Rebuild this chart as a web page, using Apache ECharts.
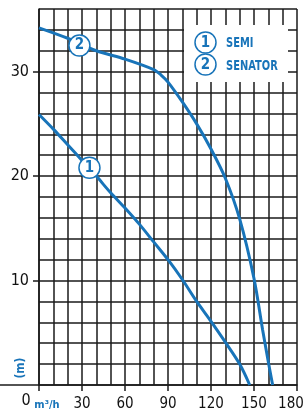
<!DOCTYPE html>
<html>
<head>
<meta charset="utf-8">
<script src="https://cdn.jsdelivr.net/npm/echarts@6/dist/echarts.min.js"></script>
<style>
    html, body { margin: 0; padding: 0; background: #fff; }
    #pumpchart { width: 303px; height: 412px; }
</style>
</head>
<body>
<div id="pumpchart"></div>
<script>
    // SEMI (1) curve
    var flowSemi = [0, 10, 20, 30, 40, 50, 60, 70, 80, 90, 100, 110, 120, 130, 140, 147];
    var headSemi = [25.9, 24.5, 23.0, 21.5, 20.0, 18.4, 16.95, 15.4, 13.7, 12.0, 10.1, 8.0, 6.1, 4.1, 2.0, 0];
    // SENATOR (2) curve
    var flowSenator = [0, 20, 40, 60, 80, 85, 90, 100, 110, 120, 130, 140, 150, 156, 160, 163];
    var headSenator = [34.2, 33.2, 32.0, 31.2, 30.2, 29.7, 29.0, 27.1, 25.0, 22.6, 19.8, 15.9, 10.2, 5.3, 2.2, 0];
    // where the circled numbers sit on the curves
    var markerNames = ['1', '2'];
    var markerFlow = [35.2, 28.2];
    var markerHead = [20.8, 32.5];
    // tick labels
    var xTickLabels = [30, 60, 90, 120, 150, 180];
    var yTickLabels = [10, 20, 30];
    var legendNames = ['SEMI', 'SENATOR'];

    var blue = '#1874b9';
    var ink = '#1a1a1a';
    var narrow = "'DejaVu Sans Condensed', 'Liberation Sans Narrow', sans-serif";

    function pairs(xs, ys) {
        var out = [];
        for (var i = 0; i < xs.length; i++) out.push([xs[i], ys[i]]);
        return out;
    }

    var chart = echarts.init(document.getElementById('pumpchart'));

    var option = {
        animation: false,
        grid: { left: 39, right: 6, top: 9, bottom: 27, outerBoundsMode: 'none' },
        xAxis: [
            {   // grid lines every 10
                type: 'value', position: 'bottom',
                min: 0, max: 180, interval: 10,
                axisLine: { show: true, lineStyle: { color: ink, width: 1.5 } },
                axisTick: { show: false },
                axisLabel: { show: false },
                splitLine: { show: true, lineStyle: { color: ink, width: 1.5 } }
            },
            {   // ticks and labels every 30
                type: 'value', position: 'bottom',
                min: 0, max: 180, interval: 30,
                axisLine: { show: false },
                axisTick: { show: true, customValues: [0].concat(xTickLabels), length: 6, lineStyle: { color: ink, width: 1.5 } },
                axisLabel: {
                    customValues: xTickLabels, margin: 12, fontSize: 15, color: '#111', fontFamily: narrow,
                    // last label is pulled in so it stays on the page
                    formatter: function (v) { return v === 180 ? '{r|' + v + '}' : String(v); },
                    rich: { r: { fontSize: 15, color: '#111', fontFamily: narrow, padding: [0, 12, 0, 0] } }
                },
                splitLine: { show: false }
            }
        ],
        yAxis: [
            {
                type: 'value', position: 'left',
                min: 0, max: 36, interval: 2,
                axisLine: { show: true, lineStyle: { color: ink, width: 1.5 } },
                axisTick: { show: false },
                axisLabel: { show: false },
                splitLine: { show: true, lineStyle: { color: ink, width: 1.5 } }
            },
            {
                type: 'value', position: 'left',
                min: 0, max: 36, interval: 2,
                axisLine: { show: false },
                axisTick: { show: true, customValues: yTickLabels, length: 6, lineStyle: { color: ink, width: 1.5 } },
                axisLabel: { customValues: yTickLabels, margin: 10, fontSize: 16, color: '#111', fontFamily: narrow },
                splitLine: { show: false }
            }
        ],
        graphic: [
            // axis line runs on to the left edge
            { type: 'line', shape: { x1: 0, y1: 385, x2: 39, y2: 385 }, style: { stroke: ink, lineWidth: 1.5 } },
            { type: 'text', x: 26, y: 401, style: { text: '0', fontSize: 16, fill: '#111', fontFamily: narrow, align: 'center', verticalAlign: 'middle' } },
            { type: 'text', x: 47, y: 405, style: { text: 'm³/h', fontSize: 11, fontWeight: 'bold', fill: blue, fontFamily: narrow, align: 'center', verticalAlign: 'middle' } },
            { type: 'text', x: 21, y: 368, rotation: Math.PI / 2, style: { text: '(m)', fontSize: 12, fontWeight: 'bold', fill: blue, fontFamily: narrow, align: 'center', verticalAlign: 'middle' } },
            // legend
            { type: 'rect', z: 50, shape: { x: 184, y: 25, width: 104, height: 57 }, style: { fill: '#fff' } },
            { type: 'circle', z: 51, shape: { cx: 205.5, cy: 42.5, r: 10.5 }, style: { fill: '#fff', stroke: blue, lineWidth: 1.5 } },
            { type: 'text', z: 52, x: 205.5, y: 43, style: { text: markerNames[0], fontSize: 15, fontWeight: 'bold', fill: blue, fontFamily: narrow, align: 'center', verticalAlign: 'middle' } },
            { type: 'text', z: 52, x: 226, y: 44, scaleY: 1.2, style: { text: legendNames[0], fontSize: 11, fontWeight: 'bold', fill: blue, fontFamily: narrow, verticalAlign: 'middle' } },
            { type: 'circle', z: 51, shape: { cx: 205.5, cy: 64.5, r: 10.5 }, style: { fill: '#fff', stroke: blue, lineWidth: 1.5 } },
            { type: 'text', z: 52, x: 205.5, y: 65, style: { text: markerNames[1], fontSize: 15, fontWeight: 'bold', fill: blue, fontFamily: narrow, align: 'center', verticalAlign: 'middle' } },
            { type: 'text', z: 52, x: 226, y: 66.5, scaleY: 1.2, style: { text: legendNames[1], fontSize: 11, fontWeight: 'bold', fill: blue, fontFamily: narrow, verticalAlign: 'middle' } }
        ],
        series: [
            {
                name: legendNames[0],
                type: 'line',
                data: pairs(flowSemi, headSemi),
                smooth: 0.3,
                showSymbol: false,
                lineStyle: { color: blue, width: 3 }
            },
            {
                name: legendNames[1],
                type: 'line',
                data: pairs(flowSenator, headSenator),
                smooth: 0.3,
                showSymbol: false,
                lineStyle: { color: blue, width: 3 }
            },
            {
                type: 'scatter',
                z: 10,
                symbol: 'circle',
                symbolSize: 21,
                itemStyle: { color: '#fff', borderColor: blue, borderWidth: 1.5, opacity: 1 },
                label: {
                    show: true,
                    position: 'inside',
                    formatter: function (p) { return markerNames[p.dataIndex]; },
                    color: blue, fontSize: 15, fontWeight: 'bold', fontFamily: narrow
                },
                data: pairs(markerFlow, markerHead)
            }
        ]
    };

    chart.setOption(option);
</script>
</body>
</html>
